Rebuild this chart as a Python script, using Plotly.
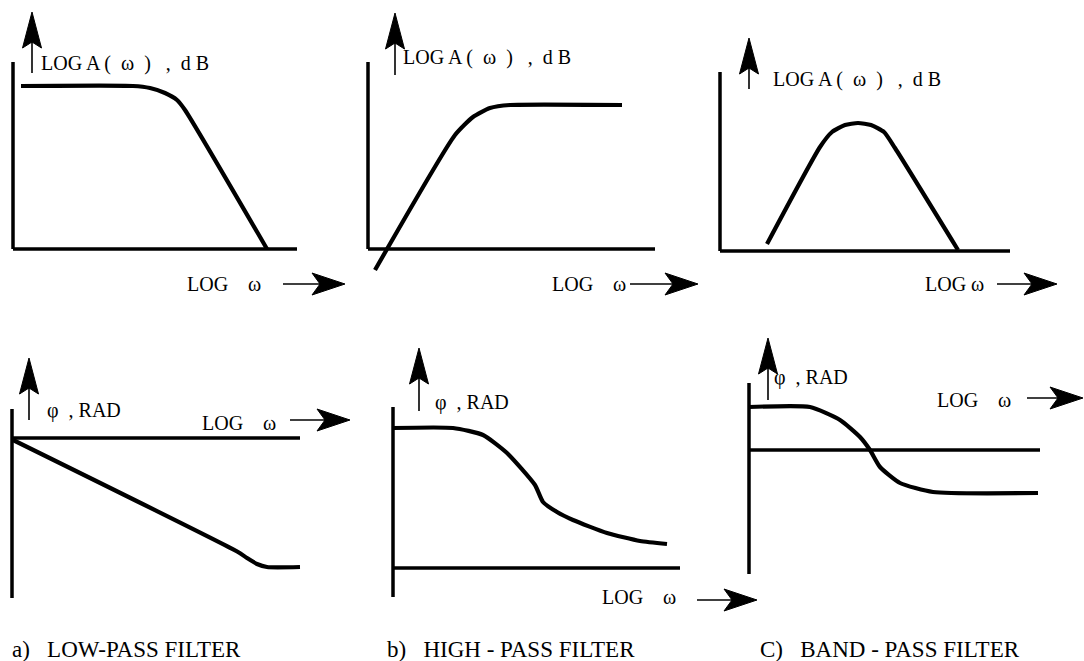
import plotly.graph_objects as go

W, H = 1084, 661
FONT = "Liberation Serif"
NB = "\u00a0"

# ---------------- data (local units: log-omega to the right, value upward,
# measured from each diagram's origin) ----------------
# a) low-pass: amplitude
lp_amp_logw = [8, 120, 137, 152, 164, 172, 254]
lp_amp_db = [163, 163, 161, 156, 149, 139, 0]
# b) high-pass: amplitude
hp_amp_logw = [7, 87, 105, 122, 142, 254]
hp_amp_db = [-21, 114, 132, 141, 144, 144]
# c) band-pass: amplitude
bp_amp_logw = [47, 100, 112, 125, 138, 151, 164, 175, 238]
bp_amp_db = [7, 104, 119, 126, 128, 126, 119, 103, 1]
# a) low-pass: phase
lp_ph_logw = [1, 226, 235, 245, 255, 288]
lp_ph_rad = [-2, -114, -120, -126, -129, -129]
# b) high-pass: phase
hp_ph_logw = [0, 60, 90, 114, 142, 150, 164, 180, 214, 247, 274]
hp_ph_rad = [140, 140, 133, 115, 83, 66, 56, 48, 35, 27, 24]
# c) band-pass: phase
bp_ph_logw = [0, 61, 91, 111, 121, 131, 151, 184, 289]
bp_ph_rad = [43, 43, 30, 13, 0, -17, -33, -42, -43]

amp_label = "LOG A (" + NB * 2 + "ω" + NB * 2 + ")" + NB * 3 + "," + NB * 2 + "d B"
phase_label = "φ" + NB * 2 + "," + NB + "RAD"
logw_wide = "LOG" + NB * 4 + "ω"
logw_tight = "LOG" + NB + "ω"
captions = ["a)" + NB * 3 + "LOW-PASS FILTER",
            "b)" + NB * 3 + "HIGH - PASS FILTER",
            "C)" + NB * 3 + "BAND - PASS FILTER"]
caption_x = [10, 385, 758]
caption_y = 649

# ---------------- layout of each diagram ----------------
panels = [
    dict(ox=13, oy=249, vy=(0, 187), hx=284, cx=lp_amp_logw, cy=lp_amp_db,
         ua=(19, 176, 237), ylab=amp_label, yl=(26, 186),
         xlab=logw_wide, xl=(172, -35), xa=(270, 332, -35)),
    dict(ox=368, oy=249, vy=(0, 187), hx=287, cx=hp_amp_logw, cy=hp_amp_db,
         ua=(27, 174, 236), ylab=amp_label, yl=(33, 192),
         xlab=logw_wide, xl=(182, -35), xa=(262, 330, -35)),
    dict(ox=720, oy=251, vy=(0, 179), hx=290, cx=bp_amp_logw, cy=bp_amp_db,
         ua=(29, 162, 213), ylab=amp_label, yl=(51, 172),
         xlab=logw_tight, xl=(203, -33), xa=(277, 337, -33)),
    dict(ox=12, oy=438, vy=(-160, 29), hx=288, cx=lp_ph_logw, cy=lp_ph_rad,
         ua=(17, 18, 80), ylab=phase_label, yl=(33, 28),
         xlab=logw_wide, xl=(188, 15), xa=(278, 338, 18)),
    dict(ox=393, oy=568, vy=(-29, 161), hx=287, cx=hp_ph_logw, cy=hp_ph_rad,
         ua=(26, 157, 220), ylab=phase_label, yl=(40, 166),
         xlab=logw_wide, xl=(207, -29), xa=(304, 364, -32)),
    dict(ox=749, oy=450, vy=(-124, 67), hx=291, cx=bp_ph_logw, cy=bp_ph_rad,
         ua=(19, 50, 112), ylab=phase_label, yl=(23, 73),
         xlab=logw_wide, xl=(186, 50), xa=(278, 334, 52)),
]


def head(tx, ty, dx, dy, length=34, half=10, notch=7):
    px, py = -dy, dx
    bx, by = tx - dx * length, ty - dy * length
    nx, ny = tx - dx * (length - notch), ty - dy * (length - notch)
    xs = [tx, bx + px * half, nx, bx - px * half, tx]
    ys = [ty, by + py * half, ny, by - py * half, ty]
    return xs, ys


fig = go.Figure()
layout = dict(width=W, height=H, autosize=False,
              margin=dict(l=0, r=0, t=0, b=0),
              paper_bgcolor="white", plot_bgcolor="rgba(0,0,0,0)",
              showlegend=False)
annotations = []

for i, p in enumerate(panels, start=1):
    xa_name = "x" if i == 1 else f"x{i}"
    ya_name = "y" if i == 1 else f"y{i}"
    key = "" if i == 1 else str(i)
    layout[f"xaxis{key}"] = dict(domain=[0, 1], range=[-p["ox"], W - p["ox"]],
                                 visible=False, anchor=ya_name, fixedrange=True)
    layout[f"yaxis{key}"] = dict(domain=[0, 1], range=[p["oy"] - H, p["oy"]],
                                 visible=False, anchor=xa_name, fixedrange=True)
    common = dict(xaxis=xa_name, yaxis=ya_name, hoverinfo="skip", mode="lines")
    # axes
    fig.add_trace(go.Scatter(x=[0, 0, None, 0, p["hx"]],
                             y=[p["vy"][0], p["vy"][1], None, 0, 0],
                             line=dict(color="black", width=3.5), **common))
    # curve
    fig.add_trace(go.Scatter(x=p["cx"], y=p["cy"],
                             line=dict(color="black", width=4.2, shape="spline",
                                       smoothing=0.55), **common))
    # vertical arrow
    ux, ub, ut = p["ua"]
    fig.add_trace(go.Scatter(x=[ux, ux], y=[ub, ut - 20],
                             line=dict(color="black", width=1.6), **common))
    hx_, hy_ = head(ux, ut, 0, 1, length=36, half=9.5, notch=6)
    fig.add_trace(go.Scatter(x=hx_, y=hy_, fill="toself", fillcolor="black",
                             line=dict(color="black", width=1), **common))
    # horizontal arrow
    x0, x1, yy = p["xa"]
    fig.add_trace(go.Scatter(x=[x0, x1 - 20], y=[yy, yy],
                             line=dict(color="black", width=1.6), **common))
    hx_, hy_ = head(x1, yy, 1, 0, length=33, half=11, notch=8)
    fig.add_trace(go.Scatter(x=hx_, y=hy_, fill="toself", fillcolor="black",
                             line=dict(color="black", width=1), **common))
    # labels
    annotations.append(dict(x=p["yl"][0], y=p["yl"][1], xref=xa_name, yref=ya_name,
                            text=p["ylab"], showarrow=False, xanchor="left",
                            yanchor="middle",
                            font=dict(family=FONT, size=20, color="black")))
    annotations.append(dict(x=p["xl"][0], y=p["xl"][1], xref=xa_name, yref=ya_name,
                            text=p["xlab"], showarrow=False, xanchor="left",
                            yanchor="middle",
                            font=dict(family=FONT, size=20, color="black")))

for text, cx in zip(captions, caption_x):
    annotations.append(dict(x=cx / W, y=1 - caption_y / H, xref="paper", yref="paper",
                            text=text, showarrow=False, xanchor="left",
                            yanchor="middle",
                            font=dict(family=FONT, size=23, color="black")))

layout["annotations"] = annotations
fig.update_layout(**layout)
fig.write_html("out.html",
               config={"displayModeBar": False},
               post_script="document.body.style.margin='0';"
                           "document.body.style.overflow='hidden';")
